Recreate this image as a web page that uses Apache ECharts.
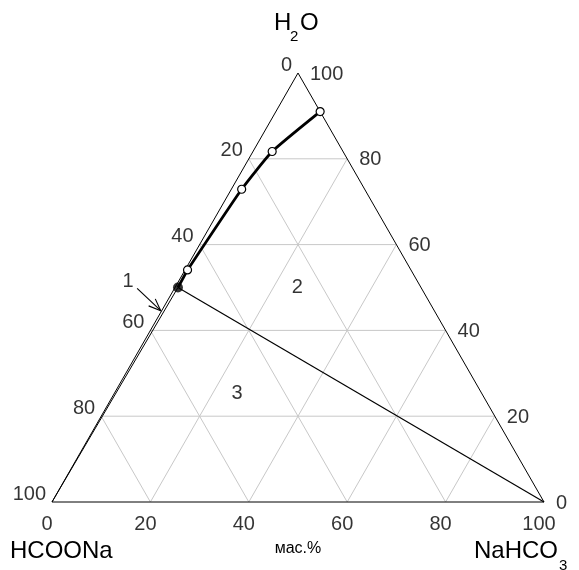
<!DOCTYPE html>
<html>
<head>
<meta charset="utf-8">
<script src="https://cdn.jsdelivr.net/npm/echarts@6/dist/echarts.min.js"></script>
<style>
html, body { margin: 0; padding: 0; background: #fff; }
#chart { width: 579px; height: 570px; }
</style>
</head>
<body>
<div id="chart"></div>
<script>
// composition in wt.%: HCOONa, NaHCO3, H2O
var ticks = [0, 20, 40, 60, 80, 100];
var gridSteps = [20, 40, 60, 80];

// solubility curve (open points + eutonic point last)
var curveHCOONa = [0, 14.4, 25.0, 45.4, 49.4];
var curveNaHCO3 = [9.0, 3.9, 2.1, 0.5, 0.6];
var curveH2O    = [91.0, 81.7, 72.9, 54.1, 50.0];

// field labels, given as [NaHCO3, H2O]
var fieldNames = ['1', '2', '3'];
var fieldNaHCO3 = [-10.2, 24.8, 24.9];
var fieldH2O = [51.3, 50.1, 25.4];

// arrow to field 1: start and tip as [NaHCO3, H2O]
var arrowNaHCO3 = [-7.6, -0.2];
var arrowH2O = [49.8, 44.6];

var FONT = '"Liberation Sans", Arial, sans-serif';

function toXY(n, w) { return [n + w / 2, w]; }

var series = [];

// grey grid lines
gridSteps.forEach(function (k) {
    var segs = [
        [toXY(0, k), toXY(100 - k, k)],          // H2O = k
        [toXY(k, 0), toXY(k, 100 - k)],          // NaHCO3 = k
        [toXY(100 - k, 0), toXY(0, 100 - k)]     // HCOONa = k
    ];
    segs.forEach(function (s) {
        series.push({
            type: 'line', data: s, showSymbol: false, silent: true, clip: false,
            lineStyle: { color: '#c8c8c8', width: 1 }, z: 1
        });
    });
});

// triangle
series.push({
    type: 'line', showSymbol: false, clip: false, z: 2,
    data: [toXY(0, 0), toXY(100, 0), toXY(0, 100), toXY(0, 0)],
    lineStyle: { color: '#000', width: 1 }
});

var last = curveH2O.length - 1;
var eut = toXY(curveNaHCO3[last], curveH2O[last]);

// tie lines from eutonic point
series.push({
    type: 'line', showSymbol: false, clip: false, z: 2,
    data: [eut, toXY(100, 0)], lineStyle: { color: '#000', width: 1.2 }
});
series.push({
    type: 'line', showSymbol: false, clip: false, z: 2,
    data: [eut, toXY(0, 0)], lineStyle: { color: '#000', width: 1 }
});

// solubility curve
var curve = curveH2O.map(function (w, i) { return toXY(curveNaHCO3[i], w); });
series.push({
    type: 'line', data: curve.slice(0, last), symbol: 'circle', symbolSize: 8,
    showSymbol: true, clip: false, z: 4, smooth: 0.15,
    lineStyle: { color: '#000', width: 2.8 },
    itemStyle: { color: '#fff', borderColor: '#000', borderWidth: 1.2 }
});
series.push({
    type: 'line', data: curve.slice(last - 1), showSymbol: false, clip: false, z: 3,
    lineStyle: { color: '#000', width: 2.8 }
});
series.push({
    type: 'scatter', data: [eut], symbolSize: 10, clip: false, z: 5,
    itemStyle: { color: '#000' }
});

function labelSeries(data, align, vAlign, offset) {
    return {
        type: 'scatter', data: data, symbolSize: 1, clip: false, z: 6, silent: true,
        itemStyle: { color: 'rgba(0,0,0,0)' },
        label: {
            show: true, position: 'inside', offset: offset,
            align: align, verticalAlign: vAlign,
            formatter: function (p) { return p.value[2]; },
            fontFamily: FONT, fontSize: 20, color: '#000'
        }
    };
}

// NaHCO3 ticks along the base
series.push(labelSeries(ticks.map(function (t) {
    return toXY(t, 0).concat([String(t)]);
}), 'center', 'middle', [-5, 22]));
// HCOONa ticks along the left side
series.push(labelSeries(ticks.map(function (t) {
    return toXY(0, 100 - t).concat([String(t)]);
}), 'right', 'middle', [-6, -8]));
// H2O ticks along the right side
series.push(labelSeries(ticks.map(function (t) {
    return toXY(100 - t, t).concat([String(t)]);
}), 'left', 'middle', [12, 1]));
// field numbers
series.push(labelSeries(fieldNames.map(function (f, i) {
    return toXY(fieldNaHCO3[i], fieldH2O[i]).concat([f]);
}), 'center', 'middle', [0, 0]));

// arrow
var a0 = toXY(arrowNaHCO3[0], arrowH2O[0]);
var a1 = toXY(arrowNaHCO3[1], arrowH2O[1]);
series.push({
    type: 'custom', clip: false, z: 6, silent: true,
    data: [[a0[0], a0[1], a1[0], a1[1]]],
    encode: { x: [0, 2], y: [1, 3] },
    renderItem: function (params, api) {
        var p0 = api.coord([api.value(0), api.value(1)]);
        var p1 = api.coord([api.value(2), api.value(3)]);
        var ang = Math.atan2(p1[1] - p0[1], p1[0] - p0[0]);
        var len = 13, spread = 0.38;
        var b1 = [p1[0] - len * Math.cos(ang - spread), p1[1] - len * Math.sin(ang - spread)];
        var b2 = [p1[0] - len * Math.cos(ang + spread), p1[1] - len * Math.sin(ang + spread)];
        var st = { stroke: '#000', lineWidth: 1.1, fill: null };
        return {
            type: 'group',
            children: [
                { type: 'polyline', shape: { points: [p0, p1] }, style: st },
                { type: 'polyline', shape: { points: [b1, p1, b2] }, style: st }
            ]
        };
    }
});

var chart = echarts.init(document.getElementById('chart'), null, { renderer: 'canvas' });
chart.setOption({
    animation: false,
    backgroundColor: '#fff',
    grid: { left: 52, right: 35, top: 73, bottom: 68 },
    xAxis: { type: 'value', min: 0, max: 100, show: false },
    yAxis: { type: 'value', min: 0, max: 100, show: false },
    series: series,
    graphic: [
        { type: 'text', x: 274, y: 35, style: { text: 'H', font: '24px ' + FONT, fill: '#000', textVerticalAlign: 'bottom' } },
        { type: 'text', x: 290, y: 44, style: { text: '2', font: '15px ' + FONT, fill: '#000', textVerticalAlign: 'bottom' } },
        { type: 'text', x: 300, y: 35, style: { text: 'O', font: '24px ' + FONT, fill: '#000', textVerticalAlign: 'bottom' } },
        { type: 'text', x: 10, y: 563, style: { text: 'HCOONa', font: '24px ' + FONT, fill: '#000', textVerticalAlign: 'bottom' } },
        { type: 'text', x: 474, y: 563, style: { text: 'NaHCO', font: '24px ' + FONT, fill: '#000', textVerticalAlign: 'bottom' } },
        { type: 'text', x: 559, y: 573, style: { text: '3', font: '15px ' + FONT, fill: '#000', textVerticalAlign: 'bottom' } },
        { type: 'text', x: 298, y: 549, style: { text: 'мас.%', font: '16px ' + FONT, fill: '#000', textAlign: 'center', textVerticalAlign: 'middle' } }
    ]
});
</script>
</body>
</html>
